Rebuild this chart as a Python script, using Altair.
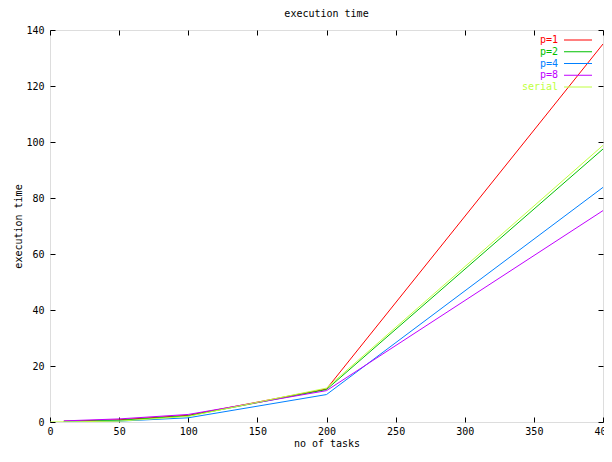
import altair as alt
import pandas as pd

series = ["p=1", "p=2", "p=4", "p=8", "serial"]
colors = ["#ff0000", "#00c000", "#0080ff", "#c000ff", "#c0ff40"]
x_par = [10, 50, 100, 200, 400]
x_serial = [0, 50, 100, 200, 400]
p1 = [0.3, 0.8, 2.4, 11.8, 135.0]
p2 = [0.2, 0.6, 2.2, 11.6, 97.5]
p4 = [0.1, 0.3, 1.5, 9.8, 83.8]
p8 = [0.4, 1.1, 2.7, 11.2, 75.5]
serial = [0.0, 0.3, 2.0, 12.1, 98.8]
x_ticks = [0, 50, 100, 150, 200, 250, 300, 350, 400]
y_ticks = [0, 20, 40, 60, 80, 100, 120, 140]

rows = []
for name, xs_, ys_ in [("p=1", x_par, p1), ("p=2", x_par, p2), ("p=4", x_par, p4),
                       ("p=8", x_par, p8), ("serial", x_serial, serial)]:
    for i, (a, b) in enumerate(zip(xs_, ys_)):
        rows.append({"series": name, "tasks": a, "time": b, "order": i})
df = pd.DataFrame(rows)
leg = pd.DataFrame({"series": series, "idx": list(range(len(series)))})

W, H = 553, 392
FONT = "DejaVu Sans Mono"
xs = alt.Scale(domain=[0, 400], nice=False, zero=False)
ys = alt.Scale(domain=[0, 140], nice=False, zero=False)
cs = alt.Scale(domain=series, range=colors)

base = alt.Chart(df)

lines = base.mark_line(strokeWidth=1, clip=True).encode(
    x=alt.X("tasks:Q", scale=xs,
            axis=alt.Axis(orient="bottom", values=x_ticks, ticks=False, domain=False, grid=False,
                          labelFlush=False, labelPadding=4, title="no of tasks", titlePadding=2,
                          labelFont=FONT, titleFont=FONT, labelFontSize=10, titleFontSize=10,
                          titleFontWeight="normal", labelColor="#000", titleColor="#000")),
    y=alt.Y("time:Q", scale=ys,
            axis=alt.Axis(orient="left", values=y_ticks, ticks=False, domain=False, grid=False,
                          labelPadding=6, title="execution time", titlePadding=2,
                          labelFont=FONT, titleFont=FONT, labelFontSize=10, titleFontSize=10,
                          titleFontWeight="normal", labelColor="#000", titleColor="#000")),
    color=alt.Color("series:N", scale=cs, legend=None),
    order="order:Q",
)

def tick_layer(xorient, xoff, yorient, yoff):
    return base.mark_point(opacity=0).encode(
        x=alt.X("tasks:Q", scale=xs,
                axis=alt.Axis(orient=xorient, offset=xoff, values=x_ticks, labels=False, domain=False,
                              grid=False, tickSize=5, tickColor="#000", title=None)),
        y=alt.Y("time:Q", scale=ys,
                axis=alt.Axis(orient=yorient, offset=yoff, values=y_ticks, labels=False, domain=False,
                              grid=False, tickSize=5, tickColor="#000", title=None)),
    )

ticks_a = tick_layer("top", -H, "right", -W)
ticks_b = tick_layer("bottom", -H, "left", -W)

ly = alt.Scale(domain=[0, 4], range=[10, 57])
leg_text = alt.Chart(leg).mark_text(align="right", baseline="middle", font=FONT, fontSize=10).encode(
    x=alt.value(W - 45),
    y=alt.Y("idx:Q", scale=ly, axis=None),
    text="series:N",
    color=alt.Color("series:N", scale=cs, legend=None),
)
leg_rule = alt.Chart(leg).mark_rule(strokeWidth=1).encode(
    x=alt.value(W - 39), x2=alt.value(W - 11),
    y=alt.Y("idx:Q", scale=ly, axis=None),
    color=alt.Color("series:N", scale=cs, legend=None),
)

chart = alt.layer(lines, ticks_a, ticks_b, leg_text, leg_rule).resolve_scale(
    x="independent", y="independent"
).properties(
    width=W, height=H,
    title=alt.TitleParams("execution time", font=FONT, fontSize=10, fontWeight="normal",
                          color="#000", offset=6, anchor="middle"),
    autosize=alt.AutoSizeParams(type="none"),
    padding={"left": 42, "top": 22, "right": 1, "bottom": 28},
).configure_view(stroke="#000", strokeWidth=1).configure(background="white")

chart.save("out.html", embed_options={"renderer": "svg", "actions": False})
